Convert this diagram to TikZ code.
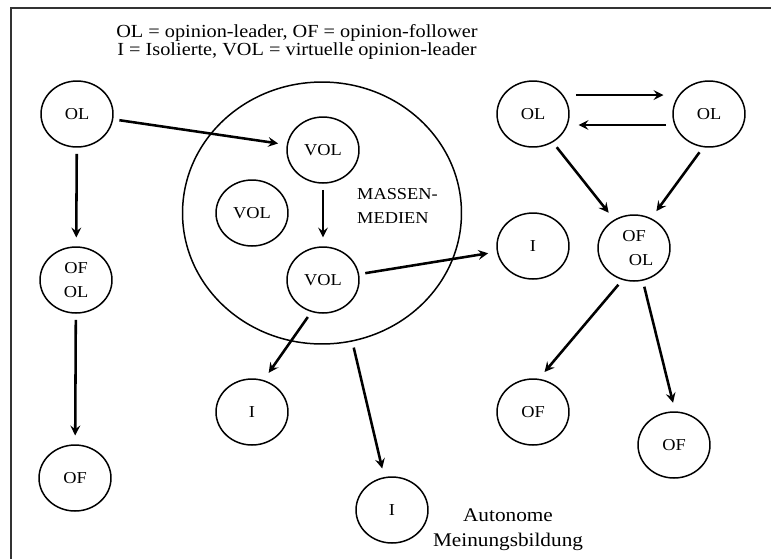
\documentclass[tikz,border=0pt]{standalone}
\usepackage{fontspec}
\setmainfont{Liberation Serif}[FakeStretch=1.1]
\usetikzlibrary{shapes.geometric}

\begin{document}
\begin{tikzpicture}[
	x=0.02cm, y=-0.02cm,
	rahmen/.style={line width=1.1pt, black!80},
	person/.style={ellipse, draw=black, line width=0.85pt, inner sep=0pt, minimum width=1.44cm, minimum height=1.32cm, font=\fontsize{9.5}{13.5}\selectfont, align=center},
	medien/.style={ellipse, draw=black, line width=0.85pt, inner sep=0pt, minimum width=5.58cm, minimum height=5.24cm},
	pfeil/.style={->, >=stealth, line width=1.45pt, black, shorten <=3.5pt, shorten >=5pt},
	lab/.style={font=\fontsize{9.5}{13.5}\selectfont, align=left},
	kopf/.style={font=\fontsize{10.5}{10}\selectfont, align=center},
	]
	
	\useasboundingbox (0,0) rectangle (771,559);
	
	% Rahmen (nur oben und links sichtbar)
	\draw[rahmen] (11,559) -- (11,8) -- (771,8);
	
	% Legende
	\node[kopf] (legende) at (297,42) {OL = opinion-leader, OF = opinion-follower\\I = Isolierte, VOL = virtuelle opinion-leader};
	
	%%═══ Massenmedien ═══════════════════════════════════
	\node[medien] (mm) at (322,213) {};
	\node[lab, anchor=west] (mmtext) at (351,206) {MASSEN-\\MEDIEN};
	\node[person] (volT) at (323,150) {VOL};
	\node[person] (volM) at (252,213) {VOL};
	\node[person] (volB) at (323,280) {VOL};
	
	%%═══ linke Kette ════════════════════════════════════
	\node[person] (olA)   at (77,114)  {OL};
	\node[person] (ofolA) at (76,280)  {OF\\OL};
	\node[person] (ofA)   at (75,478)  {OF};
	
	%%═══ Isolierte ══════════════════════════════════════
	\node[person] (iA) at (252,412) {I};
	\node[person] (iB) at (392,510) {I};
	\node[person] (iC) at (533,246) {I};
	\node[font=\fontsize{11}{14.2}\selectfont, align=center] (autonom) at (508,530) {Autonome\\Meinungsbildung};
	
	%%═══ rechte Gruppe ══════════════════════════════════
	\node[person] (olB)   at (533,114) {OL};
	\node[person] (olC)   at (709,114) {OL};
	\node[person] (ofolB) at (634,248) {OF\\\hspace*{8pt}OL};
	\node[person] (ofB)   at (533,412) {OF};
	\node[person] (ofC)   at (674,445) {OF};
	
	% Pfeile
	\draw[pfeil] (olA) -- (volT);
	\draw[pfeil] (olA) -- (ofolA);
	\draw[pfeil] (ofolA) -- (ofA);
	\draw[pfeil] (volT) -- (volB);
	\draw[pfeil] (volB) -- (iC);
	\draw[pfeil] (volB.-110) -- (iA.70);
	\draw[pfeil] (mm) -- (iB);
	\draw[pfeil] ([yshift=0.38cm]olB.east) -- ([yshift=0.38cm]olC.west);
	\draw[pfeil] ([yshift=-0.22cm]olC.west) -- ([yshift=-0.22cm]olB.east);
	\draw[pfeil] (olB.-55) -- (ofolB.125);
	\draw[pfeil] (olC.-100) -- (ofolB.60);
	\draw[pfeil] (ofolB.-110) -- (ofB.80);
	\draw[pfeil] (ofolB.-75) -- (ofC.88);
	
\end{tikzpicture}
\end{document}
